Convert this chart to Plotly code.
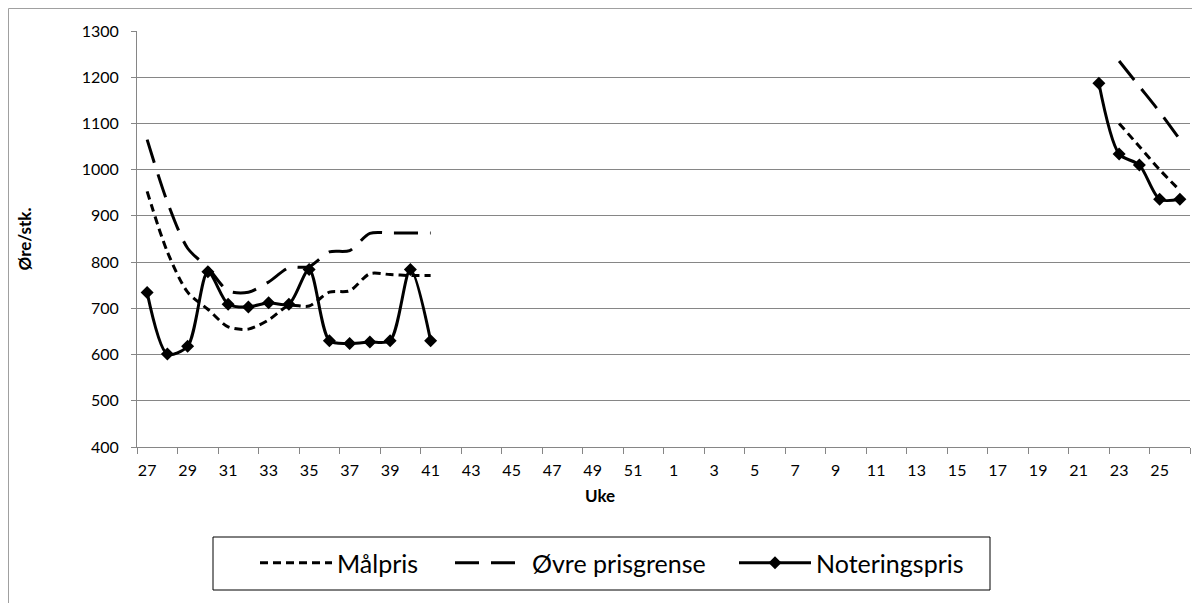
import plotly.graph_objects as go

# Uker: 27-52 og 1-26
uker = [str(w) for w in list(range(27, 53)) + list(range(1, 27))]

# Målpris (uke 27-41 og uke 23-26)
malpris_h = [953, 822, 735, 698, 660, 655, 675, 706, 705, 735, 738, 775, 773, 771, 771]
malpris_v = [1100, 1050, 1000, 955]

# Øvre prisgrense (uke 27-41 og uke 23-26)
ovre_h = [1065, 930, 830, 788, 738, 735, 757, 788, 790, 822, 825, 862, 863, 863, 863]
ovre_v = [1235, 1180, 1125, 1065]

# Noteringspris (uke 27-41 og uke 22-26)
notering_h = [734, 601, 618, 779, 709, 703, 712, 709, 784, 630, 624, 627, 630, 784, 630]
notering_v = [1187, 1034, 1010, 936, 936]


def fyll(start, slutt):
    # legg verdiene på riktig uke, tomt ellers
    midt = len(uker) - len(start) - len(slutt)
    return start + [None] * midt + slutt


FONT = "Lato, Noto Sans, sans-serif"
GRID = "#868686"

# siden har 8px marg i nettleseren, så alt flyttes 8px opp/venstre
OFF = 8
# plottområdet i piksler (slik det ser ut på bildet)
PL, PR, PT, PB = 137, 1190, 31, 447
PW, PH = PR - PL, PB - PT


def px_x(x):
    return (x - PL) / PW


def px_y(y):
    return (PB - y) / PH


fig = go.Figure()

fig.add_trace(go.Scatter(
    x=uker, y=fyll(malpris_h, malpris_v), name="Målpris", mode="lines", legend="legend",
    line=dict(color="black", width=3, dash="8px,5px", shape="spline", smoothing=0.8),
))
fig.add_trace(go.Scatter(
    x=uker, y=fyll(ovre_h, ovre_v), name="Øvre prisgrense", mode="lines", legend="legend2",
    line=dict(color="black", width=3, dash="24px,12px", shape="spline", smoothing=0.8),
))
fig.add_trace(go.Scatter(
    x=uker, y=fyll(notering_h, notering_v), name="Noteringspris", mode="lines+markers",
    legend="legend3",
    line=dict(color="black", width=3, shape="spline", smoothing=0.8),
    marker=dict(symbol="diamond", size=10, color="black"),
))

leg = dict(orientation="h", xanchor="left", yanchor="middle", y=px_y(563),
           font=dict(size=25), itemwidth=72, bgcolor="rgba(0,0,0,0)", borderwidth=0)

fig.update_layout(
    width=1200, height=603,
    paper_bgcolor="white", plot_bgcolor="white",
    margin=dict(l=PL - OFF, r=1200 - PR + OFF, t=PT - OFF, b=603 - PB + OFF),
    font=dict(family=FONT, size=16, color="black"),
    showlegend=True,
    legend=dict(leg, x=px_x(255)),
    legend2=dict(leg, x=px_x(450)),
    legend3=dict(leg, x=px_x(734)),
    shapes=[
        # ramme rundt diagramområdet
        dict(type="line", xref="paper", yref="paper", x0=px_x(8.5), x1=px_x(8.5),
             y0=px_y(8.5), y1=px_y(640), line=dict(color="#a0a0a0", width=1)),
        dict(type="line", xref="paper", yref="paper", x0=px_x(8.5), x1=px_x(1220),
             y0=px_y(8.5), y1=px_y(8.5), line=dict(color="#a0a0a0", width=1)),
        # forklaringsboks
        dict(type="rect", xref="paper", yref="paper", x0=px_x(213), x1=px_x(990),
             y0=px_y(590), y1=px_y(537), line=dict(color="black", width=1)),
    ],
    annotations=[
        # aksetittel midt i diagrammet, ikke midt i plottområdet
        dict(text="<b>Uke</b>", xref="paper", yref="paper", x=px_x(600), y=px_y(495),
             xanchor="center", yanchor="middle", showarrow=False, font=dict(size=17)),
    ],
)

fig.update_xaxes(
    type="category", range=[-0.5, 51.5], dtick=2, tickson="boundaries", tickangle=0,
    ticks="outside", ticklen=6, tickcolor=GRID, showgrid=False, ticklabelstandoff=9,
    showline=True, linecolor=GRID, linewidth=1, automargin=False,
    tickfont=dict(size=16),
)
fig.update_yaxes(
    range=[400, 1300], dtick=100, ticks="outside", ticklen=5, tickcolor=GRID,
    showgrid=True, gridcolor=GRID, gridwidth=1, ticklabelstandoff=9,
    showline=True, linecolor=GRID, linewidth=1, zeroline=False, automargin=False,
    title=dict(text="<b>Øre/stk.</b>", standoff=45, font=dict(size=17)),
    tickfont=dict(size=16),
)

fig.write_html("out.html")
